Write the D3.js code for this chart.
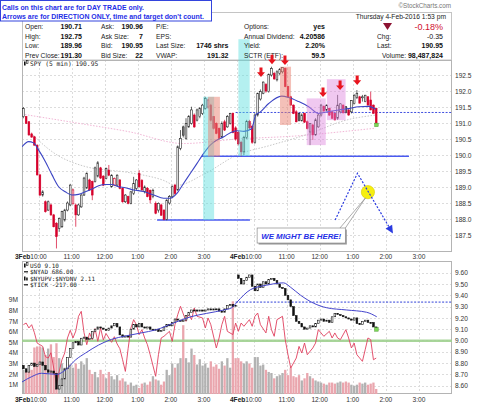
<!DOCTYPE html>
<html>
<head>
<meta charset="utf-8">
<script src="https://cdn.jsdelivr.net/npm/d3@7"></script>
<style>
  body { margin: 0; background: #fff; }
  svg { display: block; font-family: "Liberation Sans", Arial, sans-serif; }
</style>
</head>
<body>
<div id="chart"></div>
<script>
// ---- data ----
const days = ["3Feb", "4Feb"];
const barsPerDay = 78;              // 5-min bars 9:30 - 16:00
const hourLabels = ["10:00", "11:00", "12:00", "1:00", "2:00", "3:00"];
const hourMinutes = [600, 660, 720, 780, 840, 900];

// SPY 5 min: [open, high, low, close]
const spyBars = [
  [191.20,191.50,191.15,191.45],[191.20,191.22,190.97,190.99],[191.04,191.06,190.60,190.63],[190.66,190.70,190.54,190.56],
  [190.57,190.60,190.29,190.31],[190.31,190.33,189.36,189.38],[189.38,189.40,188.72,188.75],[188.75,188.90,188.70,188.85],
  [188.54,188.58,188.20,188.23],[188.28,188.58,188.25,188.54],[188.44,188.48,188.10,188.13],[188.13,188.16,187.74,187.76],
  [187.87,187.90,187.08,187.45],[187.71,188.05,187.60,188.02],[187.76,188.26,187.72,188.23],[187.97,188.32,187.92,188.28],
  [188.28,188.55,188.24,188.50],[188.44,189.10,188.40,189.06],[188.49,188.95,188.45,188.91],[188.44,188.48,187.76,188.13],
  [188.13,188.48,188.10,188.44],[188.38,188.78,188.35,188.75],[188.75,189.32,188.72,189.28],[188.97,189.46,188.94,189.43],
  [189.22,189.26,188.88,188.91],[189.17,189.20,188.59,188.75],[189.17,189.64,189.14,189.60],[189.34,189.81,189.30,189.76],
  [189.60,189.63,189.25,189.28],[189.34,189.37,189.03,189.06],[189.27,189.61,189.24,189.58],[189.53,189.69,189.34,189.37],
  [189.01,189.40,188.98,189.37],[189.06,189.30,189.03,189.27],[189.06,189.40,189.03,189.37],[189.22,189.25,188.93,188.96],
  [188.96,188.99,188.51,188.54],[188.54,188.78,188.50,188.75],[188.70,188.73,188.46,188.49],[188.49,188.88,188.46,188.85],
  [188.80,189.32,188.75,189.11],[188.96,189.25,188.90,189.22],[189.43,189.53,188.98,189.01],[189.20,189.25,188.88,188.91],
  [188.85,189.05,188.80,189.00],[188.96,189.00,188.68,188.70],[188.90,188.92,188.49,188.60],[188.70,188.95,188.65,188.90],
  [188.49,188.55,188.15,188.18],[188.28,188.52,188.20,188.49],[188.44,188.48,188.10,188.12],[188.28,188.30,187.96,187.99],
  [187.99,188.62,187.96,188.59],[188.50,188.75,188.45,188.70],[188.70,189.05,188.65,189.01],[189.06,189.10,188.75,188.80],
  [188.91,190.30,188.88,190.26],[190.21,190.78,190.15,190.52],[190.88,190.92,190.55,190.62],[190.52,191.15,190.48,190.99],
  [190.88,191.25,190.85,191.20],[190.99,191.51,190.95,191.41],[191.25,191.30,190.85,190.88],[191.09,191.45,191.05,191.41],
  [191.20,191.50,191.15,191.46],[191.30,191.60,191.25,191.56],[191.46,191.82,191.42,191.77],[191.50,191.76,191.45,191.72],
  [191.56,191.60,191.05,191.09],[191.20,191.22,190.80,190.83],[190.99,191.02,190.65,190.68],[190.83,190.86,190.50,190.52],
  [190.57,191.05,190.52,190.99],[191.04,191.10,190.75,190.78],[190.88,191.25,190.85,191.20],[190.99,191.32,190.95,191.30],
  [191.30,191.33,190.68,190.70],[190.85,190.90,190.45,190.50],
  // 4 Feb
  [190.71,190.75,190.30,190.35],[190.40,190.45,189.96,190.10],[190.10,190.60,190.00,190.55],[190.55,191.10,190.50,191.05],
  [191.05,191.10,190.80,190.85],[190.90,190.95,190.35,190.40],[190.40,191.30,190.35,191.25],[191.25,191.95,191.20,191.93],
  [191.75,192.05,191.70,191.98],[191.93,192.30,191.90,192.28],[192.20,192.25,191.95,192.00],[191.98,192.55,191.95,192.52],
  [192.50,192.76,192.45,192.70],[192.55,192.60,192.35,192.38],[192.35,192.65,192.30,192.60],[192.55,192.72,192.50,192.68],
  [192.60,192.75,192.55,192.73],[192.71,192.73,192.12,192.14],[192.14,192.16,191.80,191.82],[191.82,191.85,191.55,191.56],
  [191.56,191.58,191.28,191.30],[191.35,191.40,191.02,191.04],[191.30,191.32,191.05,191.08],[191.07,191.30,191.05,191.25],
  [191.30,191.32,191.00,191.03],[191.04,191.08,190.80,190.83],[190.72,191.00,190.31,190.98],[190.94,190.98,190.47,190.63],
  [190.63,191.15,190.60,191.10],[190.88,191.30,190.85,191.25],[191.25,191.60,191.20,191.56],[191.52,191.55,191.35,191.38],
  [191.40,191.58,191.38,191.56],[191.46,191.48,191.22,191.25],[191.35,191.38,191.12,191.15],[191.30,191.32,191.08,191.10],
  [191.15,191.88,191.10,191.56],[191.35,191.62,191.30,191.60],[191.56,191.58,191.30,191.32],[191.51,191.53,191.30,191.33],
  [191.41,191.43,191.23,191.25],[191.35,191.72,191.30,191.70],[191.61,191.90,191.58,191.87],[191.80,192.03,191.75,191.93],
  [191.82,191.85,191.62,191.62],[191.82,191.88,191.67,191.82],[191.67,191.88,191.65,191.87],[191.82,191.84,191.56,191.56],
  [191.72,191.98,191.40,191.41],[191.56,191.58,191.30,191.30],[191.46,191.48,190.93,190.95]
];

// moving averages on the SPY panel: [slot, price]
const spyMaBlue = [
  [0,190.26],[2.4,190.42],[4.2,190.38],[6,190.16],[8.5,189.79],[10.9,189.38],[13.3,189.01],[15.7,188.85],
  [18.1,188.75],[20.5,188.77],[23,188.85],[25.4,188.94],[27.8,189.04],[30.2,189.08],[32.6,189.08],[35.1,189.01],
  [37.5,188.98],[40.5,188.91],[44.1,188.86],[47.8,188.75],[51.4,188.65],[53.8,188.65],[56.2,188.80],[58.6,189.11],
  [61.1,189.43],[63.5,189.74],[65.9,190.05],[68.3,190.31],[70.7,190.47],[73.2,190.57],[75.6,190.70],[78,190.76],
  [80.5,190.74],[83.3,190.82],[84.8,191.25],[86.5,191.35],[89.5,191.61],[94.2,191.84],[96.7,191.80],[100.4,191.67],
  [104,191.51],[107.6,191.30],[111.3,191.36],[114.9,191.41],[118.5,191.45],[122.1,191.51],[125.8,191.52],[128.3,191.43]
];
const spyMaPink = [[0,191.28],[20,191.0],[38.7,190.73],[58.6,190.36],[78,190.5],[100,190.6],[115,190.72],[128.3,190.84]];
const spyMaGrey = [[4,190.62],[11,190.1],[23,189.64],[39,189.45],[51,189.22],[56,189.05],[66,189.4],[78,190.0],
  [90,190.3],[103,190.63],[118,191.1],[128.3,191.25]];
const priceTicks = [187.5, 188.0, 188.5, 189.0, 189.5, 190.0, 190.5, 191.0, 191.5, 192.0, 192.5];

// USO closes; opens follow the previous close except at each day's open
const usoClose = [
  8.75,8.72,8.78,8.80,8.77,8.79,8.81,8.78,8.74,8.72,8.73,8.71,8.57,8.60,8.66,8.75,8.85,8.93,8.98,8.99,
  8.96,9.02,9.03,9.01,9.02,9.08,9.10,9.12,9.11,9.10,9.09,9.11,9.13,9.15,9.12,9.05,9.03,9.04,9.03,9.10,
  9.14,9.12,9.15,9.12,9.11,9.12,9.10,9.09,9.10,9.08,9.09,9.12,9.14,9.13,9.16,9.19,9.18,9.17,9.18,9.22,
  9.25,9.27,9.27,9.26,9.27,9.26,9.27,9.28,9.27,9.28,9.28,9.26,9.25,9.28,9.31,9.32,9.30,9.31,
  9.55,9.50,9.53,9.56,9.58,9.48,9.44,9.50,9.47,9.52,9.50,9.54,9.55,9.53,9.50,9.47,9.46,9.40,9.36,9.30,
  9.22,9.17,9.15,9.12,9.10,9.11,9.13,9.12,9.15,9.18,9.19,9.17,9.18,9.16,9.21,9.24,9.23,9.22,9.21,9.20,
  9.19,9.18,9.20,9.15,9.14,9.17,9.18,9.16,9.16,9.12,9.10
];
const usoDayOpen = [8.78, 9.58];
const usoMa = [[0,8.633],[3.5,8.68],[7.1,8.71],[12.6,8.70],[15.8,8.74],[19.5,8.83],[23.1,8.89],[27.8,8.96],
  [32.5,9.01],[37.6,9.04],[43,9.066],[48.8,9.096],[55,9.155],[61.2,9.21],[67,9.24],[73.2,9.27],[76.1,9.29],
  [78,9.34],[82.9,9.45],[88.8,9.49],[94.9,9.51],[97.5,9.47],[101.1,9.40],[105.8,9.33],[110.5,9.29],
  [117.8,9.27],[125,9.25],[128.7,9.21]];
const usoTicks = [8.6, 8.7, 8.8, 8.9, 9.0, 9.1, 9.2, 9.3, 9.4, 9.5, 9.6];

// $NYUPV:$NYDNV histogram, millions
const ratioBars = [
  2.4,2.2,2.3,2.4,4.5,4.6,4.6,4.5,3.8,4.4, 4.8,3.6,4.9,3.5,3.0,2.6,3.4,2.9,2.6,3.0,
  2.5,3.2,2.9,3.5,2.4,2.0,2.2,1.7,2.4,2.0, 1.6,2.2,1.8,1.5,1.9,1.4,1.6,1.3,1.0,1.2,
  0.9,1.0,0.7,1.1,1.2,1.0,1.3,1.8,1.5,1.4, 1.0,1.3,2.4,1.9,3.0,2.6,3.0,3.5,6.6,3.5,
  3.1,4.4,3.8,2.9,3.4,2.8,3.0,2.6,3.2,2.7, 2.9,2.5,3.2,2.8,3.5,2.6,8.85,3.5,
  3.5,3.2,3.0,3.2,3.0,2.6,3.6,3.6,2.8,2.9, 2.4,2.2,2.1,1.6,1.8,1.9,2.1,2.4,1.9,2.6,
  1.8,1.7,1.9,1.4,1.6,2.1,1.8,1.6,1.4,1.3, 1.2,1.1,1.0,1.2,1.2,1.1,1.2,1.3,1.2,1.3,
  1.2,1.0,0.9,1.0,1.2,1.1,1.2,1.0,1.1,1.2,0.6
];
const volTicks = [1, 2, 3, 4, 5, 6, 7, 8, 9];

// $TICK: [bar, value]
const tickPoints = [
  [0,200],[1,221],[2,159],[3,200],[4,100],[5,-30],[6,-50],[7,-71],[8,-200],[9,-217],[10,-150],[11,-342],
  [12,-550],[13,-384],[14,-238],[15,-154],[16,34],[17,130],[18,34],[19,120],[20,305],[21,367],[22,100],
  [23,-50],[24,97],[25,13],[26,150],[27,-8],[28,160],[29,10],[30,90],[31,34],[32,-20],[33,50],[34,-40],
  [35,-100],[36,-238],[37,-384],[38,-100],[39,159],[40,263],[41,200],[42,76],[43,138],[44,34],[45,-50],
  [46,-175],[48,-445],[49,-175],[50,34],[51,55],[53,117],[54,-8],[55,200],[56,325],[57,430],[59,242],
  [60,346],[61,263],[62,409],[63,305],[65,284],[66,159],[67,284],[68,200],[70,-91],[71,34],[72,200],
  [73,305],[74,117],[76,76],[77,221],
  [78,117],[79,221],[80,180],[82,263],[83,180],[84,305],[85,346],[86,200],[88,97],[89,305],[90,138],
  [91,55],[92,263],[94,305],[95,13],[96,-175],[97,-342],[99,-217],[100,-71],[101,-154],[102,-29],
  [103,-175],[105,-91],[106,-29],[107,138],[108,97],[109,55],[111,117],[112,34],[113,97],[114,34],
  [115,13],[117,138],[118,34],[119,-91],[120,-29],[121,-175],[123,-258],[124,-113],[125,34],[126,13],
  [127,-238],[128,-217]
];

// annotations, in [slot, price]
const supportLines = [[49, 82.7, 187.97], [65.3, 140.4, 189.96]];
const prevClose = 191.33;
const usoPrevClose = 9.34;
const zones = [
  { from: 65.7, to: 69.7, hi: 191.82, lo: 187.97, kind: "cyan" },
  { from: 67.5, to: 71.8, hi: 191.82, lo: 189.95, kind: "salmon" },
  { from: 78.5, to: 82.6, hi: 193.62, lo: 189.97, kind: "cyan" },
  { from: 93.6, to: 97.6, hi: 192.76, lo: 190.94, kind: "salmon" },
  { from: 103.3, to: 110.2, hi: 191.77, lo: 190.31, kind: "pink" },
  { from: 110.6, to: 117.4, hi: 192.37, lo: 191.09, kind: "pink" }
];
const downArrows = [[86.7,192.44],[90.7,192.84],[95.4,192.81],[109.2,191.81],[115.4,192.03],[121.6,192.19]];
const zigzag = [[113.6,187.97],[121.7,189.43],[134.2,187.6]];

// quote header
const quoteCol1 = [["Open:", "190.71"], ["High:", "192.75"], ["Low:", "189.96"], ["Prev Close:", "191.30"]];
const quoteCol2 = [["Ask:", "190.96"], ["Ask Size:", "7"], ["Bid:", "190.95"], ["Bid Size:", "22"]];
const quoteCol3 = [["P/E:", ""], ["EPS:", ""], ["Last Size:", "1746 shrs"], ["VWAP:", "191.32"]];
const quoteCol4 = [["Options:", "yes"], ["Annual Dividend:", "4.20586"], ["Yield:", "2.20%"], ["SCTR (ETF):", "59.5"]];
const quoteCol5 = [["", "-0.18%"], ["Chg:", "-0.35"], ["Last:", "190.95"], ["Volume:", "98,487,824"]];

// ---- layout ----
const W = 480, H = 406;
const plotL = 22, plotR = 452;
const mainTop = 60, mainBot = 252;
const lowTop = 261, lowBot = 394;

const x = d3.scaleLinear().domain([0, 2 * barsPerDay]).range([plotL, plotR]);
const cx = i => x(i + 0.5);
const yMain = d3.scaleLinear().domain([186.97, 192.97]).range([mainBot, mainTop]);
const yUso = d3.scaleLinear().domain([8.6, 9.6]).range([385.7, 272.7]);
const yVol = d3.scaleLinear().domain([1, 9]).range([384.7, 299.7]);
const yTick = d3.scaleLinear().domain([-1000, 1000]).range([420.7, 260.7]);

const svg = d3.select("#chart").append("svg").attr("width", W).attr("height", H);
svg.append("rect").attr("width", W).attr("height", H).attr("fill", "#fff");

const defs = svg.append("defs");
defs.append("clipPath").attr("id", "clipMain").append("rect")
  .attr("x", plotL).attr("y", mainTop).attr("width", plotR - plotL).attr("height", mainBot - mainTop);
defs.append("clipPath").attr("id", "clipLow").append("rect")
  .attr("x", plotL).attr("y", lowTop).attr("width", plotR - plotL).attr("height", lowBot - lowTop);

// hour grid slots
const gridSlots = [];
days.forEach((d, k) => hourMinutes.forEach(m => gridSlots.push(k * barsPerDay + (m - 570) / 5)));
gridSlots.push(barsPerDay);

// header box
svg.append("rect").attr("x", plotL + 0.5).attr("y", 12.5).attr("width", plotR - plotL - 1).attr("height", mainTop - 12.5)
  .attr("fill", "none").attr("stroke", "#c4c4c4");

// panel frames and grids
function panel(top, bot, hValues, yScale) {
  const g = svg.append("g");
  g.selectAll(".hg").data(hValues).enter().append("line")
    .attr("x1", plotL).attr("x2", plotR)
    .attr("y1", d => Math.round(yScale(d)) + 0.5).attr("y2", d => Math.round(yScale(d)) + 0.5)
    .attr("stroke", "#dcdcdc").attr("stroke-dasharray", "2,2");
  g.selectAll(".vg").data(gridSlots).enter().append("line")
    .attr("x1", d => Math.round(x(d)) + 0.5).attr("x2", d => Math.round(x(d)) + 0.5)
    .attr("y1", top).attr("y2", bot)
    .attr("stroke", "#dcdcdc").attr("stroke-dasharray", "2,2");
  g.append("rect").attr("x", plotL + 0.5).attr("y", top + 0.5)
    .attr("width", plotR - plotL - 1).attr("height", bot - top - 1)
    .attr("fill", "none").attr("stroke", "#b4b4b4");
}
panel(mainTop, mainBot, priceTicks, yMain);
panel(lowTop, lowBot, usoTicks, yUso);

// right axes
function rightAxis(scale, values, fmt) {
  const ax = svg.append("g").attr("transform", `translate(${plotR},0)`)
    .call(d3.axisRight(scale).tickValues(values).tickFormat(fmt).tickSize(0).tickPadding(3));
  ax.select(".domain").remove();
  ax.selectAll("text").attr("font-size", "6.6px").attr("fill", "#333")
    .attr("font-family", "Liberation Sans, Arial, sans-serif");
}
rightAxis(yMain, priceTicks, d3.format(".1f"));
rightAxis(yUso, usoTicks, d3.format(".2f"));

const leftAx = svg.append("g").attr("transform", `translate(${plotL - 3},0)`)
  .call(d3.axisLeft(yVol).tickValues(volTicks).tickFormat(d => d + "M").tickSize(0).tickPadding(1));
leftAx.select(".domain").remove();
leftAx.selectAll("text").attr("font-size", "6.6px").attr("fill", "#333")
  .attr("font-family", "Liberation Sans, Arial, sans-serif");

// time labels
function timeLabels(yBase) {
  days.forEach((day, k) => {
    hourMinutes.forEach((m, j) => {
      const gx = x(k * barsPerDay + (m - 570) / 5);
      svg.append("text").attr("x", gx).attr("y", yBase).attr("text-anchor", "middle")
        .attr("font-size", "6.6px").attr("fill", "#333").text(hourLabels[j]);
      if (j === 0) {
        svg.append("text").attr("x", gx - 8.2).attr("y", yBase).attr("text-anchor", "end")
          .attr("font-size", "6.6px").attr("font-weight", "bold").attr("fill", "#222").text(day);
      }
    });
  });
}
timeLabels(259.3);
timeLabels(402);

// ---- SPY panel ----
const gMain = svg.append("g").attr("clip-path", "url(#clipMain)");

const line = d3.line().x(d => x(d[0])).y(d => yMain(d[1])).curve(d3.curveMonotoneX);
gMain.append("path").datum(spyMaPink).attr("d", line).attr("fill", "none")
  .attr("stroke", "#f2b6d6").attr("stroke-width", 1).attr("stroke-dasharray", "1.5,1.5");
gMain.append("path").datum(spyMaGrey).attr("d", line).attr("fill", "none")
  .attr("stroke", "#c8c8c8").attr("stroke-width", 1).attr("stroke-dasharray", "1.5,1.5");

// prev close and support lines
gMain.append("line").attr("x1", x(77.5)).attr("x2", x(2 * barsPerDay))
  .attr("y1", yMain(prevClose)).attr("y2", yMain(prevClose))
  .attr("stroke", "#4050e0").attr("stroke-width", 1).attr("stroke-dasharray", "2,1.5");
gMain.selectAll(".support").data(supportLines).enter().append("line")
  .attr("x1", d => x(d[0])).attr("x2", d => x(d[1]))
  .attr("y1", d => yMain(d[2])).attr("y2", d => yMain(d[2]))
  .attr("stroke", "#4a5af0").attr("stroke-width", 1.5);

// candles
const red = "#d6002b";
function spyColor(d, i) {
  const prev = i > 0 ? spyBars[i - 1][3] : d[0];
  return d[3] >= prev ? "#222" : red;
}
const candles = gMain.selectAll(".spy").data(spyBars).enter().append("g");
candles.append("line")
  .attr("x1", (d, i) => cx(i)).attr("x2", (d, i) => cx(i))
  .attr("y1", d => yMain(d[1])).attr("y2", d => yMain(d[2]))
  .attr("stroke", (d, i) => spyColor(d, i)).attr("stroke-width", 0.7);
candles.append("rect")
  .attr("x", (d, i) => cx(i) - 0.85).attr("width", 1.7)
  .attr("y", d => yMain(Math.max(d[0], d[3])))
  .attr("height", d => Math.max(1, Math.abs(yMain(d[0]) - yMain(d[3]))))
  .attr("fill", (d, i) => d[3] >= d[0] ? "#fff" : (spyColor(d, i) === red ? red : "#808080"))
  .attr("stroke", (d, i) => spyColor(d, i)).attr("stroke-width", 0.6);

gMain.append("path").datum(spyMaBlue).attr("d", line).attr("fill", "none")
  .attr("stroke", "#3b44c4").attr("stroke-width", 1.1);

// last marker
const lastI = spyBars.length - 1;
gMain.append("rect").attr("x", cx(lastI) - 1.5).attr("y", yMain(spyBars[lastI][3]) - 1.5)
  .attr("width", 3.5).attr("height", 3.5).attr("fill", "#7ed957").attr("stroke", "#4a9a30").attr("stroke-width", 0.5);

// shaded zones
const zoneColor = { cyan: "#58dede", salmon: "#e98171", pink: "#de85de" };
svg.append("g").selectAll("rect").data(zones).enter().append("rect")
  .attr("x", d => x(d.from)).attr("width", d => x(d.to) - x(d.from))
  .attr("y", d => yMain(d.hi)).attr("height", d => yMain(d.lo) - yMain(d.hi))
  .attr("fill", d => zoneColor[d.kind]).attr("fill-opacity", d => d.kind === "salmon" ? 0.5 : 0.45);

// ---- lower panel ----
const gLow = svg.append("g").attr("clip-path", "url(#clipLow)");
gLow.selectAll(".rb").data(ratioBars).enter().append("rect")
  .attr("x", (d, i) => cx(i) - 1.15).attr("width", 2.3)
  .attr("y", d => yVol(d)).attr("height", d => yVol(0) - yVol(d))
  .attr("fill", (d, i) => spyBars[i][3] < spyBars[i][0] ? "#eaa6ae" : "#b2b2b2");

gLow.append("line").attr("x1", plotL).attr("x2", plotR)
  .attr("y1", yTick(0)).attr("y2", yTick(0))
  .attr("stroke", "#9fd08f").attr("stroke-width", 2.5).attr("stroke-opacity", 0.9);

gLow.append("path").datum(tickPoints)
  .attr("d", d3.line().x(d => cx(d[0])).y(d => yTick(d[1])))
  .attr("fill", "none").attr("stroke", "#e0405e").attr("stroke-width", 0.9);

gLow.append("line").attr("x1", x(77.5)).attr("x2", x(2 * barsPerDay))
  .attr("y1", yUso(usoPrevClose)).attr("y2", yUso(usoPrevClose))
  .attr("stroke", "#3040d8").attr("stroke-width", 1).attr("stroke-dasharray", "2,1.5");

const usoOpen = i => i === 0 ? usoDayOpen[0] : (i === barsPerDay ? usoDayOpen[1] : usoClose[i - 1]);
gLow.selectAll(".uso").data(usoClose).enter().append("rect")
  .attr("x", (d, i) => cx(i) - 0.85).attr("width", 1.7)
  .attr("y", (d, i) => yUso(Math.max(d, usoOpen(i))))
  .attr("height", (d, i) => Math.max(1, Math.abs(yUso(d) - yUso(usoOpen(i)))))
  .attr("fill", (d, i) => d > usoOpen(i) ? "#fff" : "#111")
  .attr("stroke", "#111").attr("stroke-width", 0.6);

gLow.append("path").datum(usoMa)
  .attr("d", d3.line().x(d => x(d[0])).y(d => yUso(d[1])).curve(d3.curveMonotoneX))
  .attr("fill", "none").attr("stroke", "#4444cc").attr("stroke-width", 1);

const lastU = usoClose.length - 1;
gLow.append("rect").attr("x", cx(lastU) - 1.5).attr("y", yUso(usoClose[lastU]) - 1.5)
  .attr("width", 3.5).attr("height", 3.5).attr("fill", "#7ed957").attr("stroke", "#4a9a30").attr("stroke-width", 0.5);

// ---- legends ----
const mono = "DejaVu Sans Mono, monospace";
function candleIcon(xp, yp) {
  svg.append("rect").attr("x", xp).attr("y", yp - 4).attr("width", 1.6).attr("height", 4).attr("fill", "#111");
  svg.append("rect").attr("x", xp + 2.4).attr("y", yp - 5).attr("width", 1.6).attr("height", 3).attr("fill", "#fff")
    .attr("stroke", "#111").attr("stroke-width", 0.6);
}
candleIcon(24, 65.5);
svg.append("text").attr("x", 30).attr("y", 65.5).attr("font-family", mono).attr("font-size", "6.3px")
  .attr("fill", "#222").text("SPY (5 min) 190.95");

const lowLegend = [["candle", "USO 9.10"], ["line", "$NYAD 686.00"], ["bar", "$NYUPV:$NYDNV 2.11"], ["line", "$TICK -217.00"]];
lowLegend.forEach((d, k) => {
  const yb = 267.5 + k * 6.5;
  if (d[0] === "candle") candleIcon(24, yb);
  else if (d[0] === "line") svg.append("rect").attr("x", 24).attr("y", yb - 2.8).attr("width", 4).attr("height", 1.2).attr("fill", "#111");
  else {
    svg.append("rect").attr("x", 24).attr("y", yb - 4).attr("width", 1.5).attr("height", 4).attr("fill", "#111");
    svg.append("rect").attr("x", 26.2).attr("y", yb - 3).attr("width", 1.5).attr("height", 3).attr("fill", "#111");
  }
  svg.append("text").attr("x", 30).attr("y", yb).attr("font-family", mono).attr("font-size", "6px")
    .attr("fill", "#222").text(d[1]);
});

// ---- quote header ----
const rowY = [29, 38.5, 48.3, 58.2];
function quoteCol(rows, labelX, valueX) {
  rows.forEach((r, k) => {
    if (r[0]) svg.append("text").attr("x", labelX).attr("y", rowY[k]).attr("font-size", "6.7px").attr("fill", "#222").text(r[0]);
    if (r[1]) svg.append("text").attr("x", valueX).attr("y", rowY[k]).attr("text-anchor", "end")
      .attr("font-size", "7px").attr("font-weight", "bold").attr("fill", "#111").text(r[1]);
  });
}
quoteCol(quoteCol1, 25, 82);
quoteCol(quoteCol2, 101, 143);
quoteCol(quoteCol3, 156, 228.5);
quoteCol(quoteCol4, 244, 325);
quoteCol5.forEach((r, k) => {
  if (k === 0) return;
  svg.append("text").attr("x", k === 3 ? 382 : 377).attr("y", rowY[k]).attr("font-size", "6.7px").attr("fill", "#222").text(r[0]);
  svg.append("text").attr("x", 443).attr("y", rowY[k]).attr("text-anchor", "end")
    .attr("font-size", "7px").attr("font-weight", k === 1 ? "normal" : "bold").attr("fill", "#111").text(r[1]);
});
svg.append("text").attr("x", 443).attr("y", 29.5).attr("text-anchor", "end").attr("font-size", "9px")
  .attr("fill", "#d0102e").text(quoteCol5[0][1]);
svg.append("path").attr("d", "M383,23 L392,23 L387.5,30 Z").attr("fill", "#8c1232");
svg.append("text").attr("x", 446).attr("y", 19).attr("text-anchor", "end").attr("font-size", "6.7px")
  .attr("fill", "#222").text("Thursday  4-Feb-2016  1:53 pm");
svg.append("text").attr("x", 451).attr("y", 8.3).attr("text-anchor", "end").attr("font-size", "6.3px")
  .attr("fill", "#777").text("\u00A9StockCharts.com");

// note box
svg.append("rect").attr("x", 0.5).attr("y", 0.5).attr("width", 211).attr("height", 20.5)
  .attr("fill", "#fff").attr("stroke", "#3344dd").attr("stroke-width", 1);
svg.append("text").attr("x", 2).attr("y", 9.8).attr("font-size", "7px").attr("font-weight", "bold")
  .attr("fill", "#1f2fe6").attr("textLength", 142).attr("lengthAdjust", "spacingAndGlyphs")
  .text("Calls on this chart are for DAY TRADE only.");
svg.append("text").attr("x", 2).attr("y", 18.5).attr("font-size", "7px").attr("font-weight", "bold")
  .attr("fill", "#1f2fe6").attr("textLength", 202).attr("lengthAdjust", "spacingAndGlyphs")
  .text("Arrows are for DIRECTION ONLY, time and target don't count.");

// red down arrows
svg.append("g").selectAll("path").data(downArrows).enter().append("path")
  .attr("transform", d => `translate(${x(d[0])},${yMain(d[1])})`)
  .attr("d", "M0,0 L-4,-4.6 L-1.5,-4.6 L-1.5,-9.5 L1.5,-9.5 L1.5,-4.6 L4,-4.6 Z")
  .attr("fill", "#e8141e");

// projection zigzag with yellow marker
const zx = d => x(d[0]), zy = d => yMain(d[1]);
svg.append("circle").attr("cx", x(125.5)).attr("cy", yMain(188.84)).attr("r", 6.6)
  .attr("fill", "#f6ef10").attr("stroke", "#d8cc00").attr("stroke-width", 0.6);
svg.append("path").datum(zigzag).attr("d", d3.line().x(zx).y(zy))
  .attr("fill", "none").attr("stroke", "#2b3be0").attr("stroke-width", 1.2).attr("stroke-dasharray", "2,1.6");
const pA = zigzag[1], pB = zigzag[2];
const ang = Math.atan2(zy(pB) - zy(pA), zx(pB) - zx(pA)) * 180 / Math.PI;
svg.append("path").attr("transform", `translate(${zx(pB)},${zy(pB)}) rotate(${ang})`)
  .attr("d", "M2,0 L-6,-3.8 L-6,3.8 Z").attr("fill", "#2b3be0");

// callout
const bx0 = x(85.3), bx1 = x(117.3), by0 = yMain(187.72), by1 = yMain(187.25);
svg.append("rect").attr("x", bx0 + 1.5).attr("y", by0 + 1.5).attr("width", bx1 - bx0).attr("height", by1 - by0).attr("fill", "#9a9a9a");
svg.append("path")
  .attr("d", `M${x(115.2)},${by0 + 0.5} L${x(124.6)},${yMain(188.66)} L${x(117.2)},${by0 + 0.5}`)
  .attr("fill", "#fff").attr("stroke", "#8a8a8a").attr("stroke-width", 0.7);
svg.append("rect").attr("x", bx0).attr("y", by0).attr("width", bx1 - bx0).attr("height", by1 - by0)
  .attr("fill", "#fff").attr("stroke", "#8a8a8a").attr("stroke-width", 0.7);
svg.append("text").attr("x", (bx0 + bx1) / 2).attr("y", by1 - 4.2).attr("text-anchor", "middle")
  .attr("font-size", "7.6px").attr("font-weight", "bold").attr("font-style", "italic").attr("fill", "#1f2fe6")
  .attr("textLength", 80).attr("lengthAdjust", "spacingAndGlyphs").text("WE MIGHT BE HERE!");
</script>
</body>
</html>
